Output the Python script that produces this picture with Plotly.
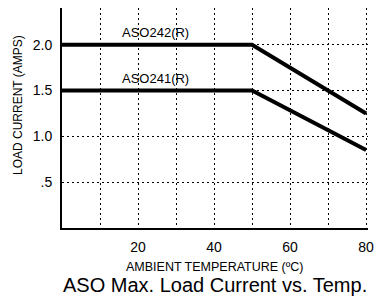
import plotly.graph_objects as go

temps = [0, 50, 80]
aso242 = [2.0, 2.0, 1.25]
aso241 = [1.5, 1.5, 0.85]
series_names = ["ASO242(R)", "ASO241(R)"]
x_tick_vals = [10, 20, 30, 40, 50, 60, 70, 80]
x_tick_text = ["", "20", "", "40", "", "60", "", "80"]
y_tick_vals = [0.5, 1.0, 1.5, 2.0]
y_tick_text = [".5", "1.0", "1.5", "2.0"]

FONT = "Liberation Sans, Arial, sans-serif"
GRID_DASH = "2px,3px"

fig = go.Figure()
for vals in (aso242, aso241):
    fig.add_trace(go.Scatter(x=temps, y=vals, mode="lines",
                             line=dict(color="black", width=4), showlegend=False))

fig.add_annotation(x=24.5, y=2.13, text=series_names[0], showarrow=False,
                   font=dict(family=FONT, size=13, color="black"))
fig.add_annotation(x=24.5, y=1.63, text=series_names[1], showarrow=False,
                   font=dict(family=FONT, size=13, color="black"))

fig.add_annotation(xref="paper", yref="paper", x=0.5, y=-0.177,
                   xanchor="center", yanchor="middle",
                   text="AMBIENT TEMPERATURE (ºC)", showarrow=False,
                   font=dict(family=FONT, size=12.5, color="black"))
fig.add_annotation(xref="paper", yref="paper", x=0.5, y=-0.257,
                   xanchor="center", yanchor="middle",
                   text="ASO Max. Load Current vs. Temp.", showarrow=False,
                   font=dict(family=FONT, size=20, color="black"))
fig.add_annotation(xref="paper", yref="paper", x=-0.143, y=0.56,
                   xanchor="center", yanchor="middle",
                   text="LOAD CURRENT (AMPS)", showarrow=False, textangle=-90,
                   font=dict(family=FONT, size=12, color="black"))

fig.update_xaxes(range=[0, 80.5], tickvals=x_tick_vals, ticktext=x_tick_text,
                 showgrid=True, gridcolor="black", griddash=GRID_DASH, gridwidth=1,
                 showline=True, linecolor="black", linewidth=2, zeroline=False,
                 ticks="", ticklabelstandoff=5,
                 tickfont=dict(family=FONT, size=14, color="black"))
fig.update_yaxes(range=[0, 2.4], tickvals=y_tick_vals, ticktext=y_tick_text,
                 showgrid=True, gridcolor="black", griddash=GRID_DASH, gridwidth=1,
                 showline=True, linecolor="black", linewidth=2, zeroline=False,
                 ticks="", ticklabelstandoff=5,
                 tickfont=dict(family=FONT, size=14, color="black"))

fig.update_layout(width=382, height=300, margin=dict(l=62, r=12, t=8, b=72),
                  plot_bgcolor="white", paper_bgcolor="white")

fig.write_html("out.html", config={"displayModeBar": False},
               post_script="document.body.style.margin='0';document.body.style.overflow='hidden';")
